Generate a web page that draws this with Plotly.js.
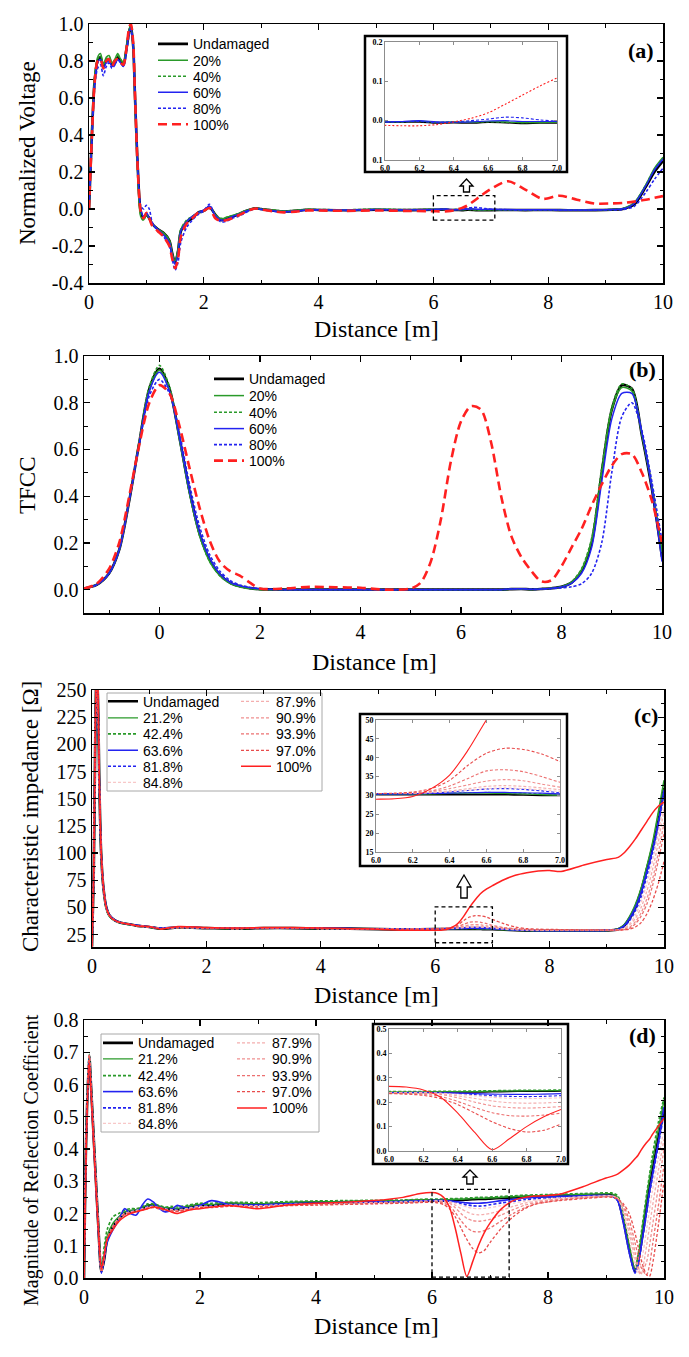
<!DOCTYPE html>
<html><head><meta charset="utf-8">
<script src="https://cdn.plot.ly/plotly-3.0.1.min.js"></script>
<style>html,body{margin:0;padding:0;background:#fff;}#chart{width:689px;height:1357px;}</style>
</head><body><div id="chart"></div>
<script>
// ================= DATA =================
// Panel (a) normalized voltage
const aDist = [0,0.05,0.1,0.15,0.2, 0.25,0.3,0.35,0.4,0.45, 0.5,0.55,0.6,0.65,0.7, 0.73,0.77,0.8,0.85,0.9,
 0.95,1.0,1.05,1.1,1.2, 1.3,1.4,1.45,1.5,1.55, 1.6,1.7,1.8,1.9,2.0, 2.1,2.2,2.3,2.4,2.5,
 2.6,2.7,2.8,2.9,3.0, 3.2,3.4,3.6,3.8,4.0, 4.5,5.0,5.5,6.0,6.1, 6.2,6.3,6.4,6.5,6.6,
 6.7,6.8,6.9,7.0,7.3, 7.6,7.9,8.2,8.5,8.8, 9.1,9.3,9.5,9.7,9.85, 10.0];
const aUndamaged = [0.00,0.40,0.70,0.80,0.82, 0.77,0.80,0.81,0.78,0.79, 0.82,0.80,0.78,0.86,0.96, 0.99,0.88,0.62,0.22,-0.01,
 -0.05,-0.03,-0.05,-0.08,-0.11, -0.13,-0.17,-0.24,-0.29,-0.23, -0.12,-0.07,-0.05,-0.02,-0.01, 0.01,-0.03,-0.06,-0.05,-0.04,
 -0.03,-0.015,-0.004,0.004,0.000, -0.008,-0.013,-0.010,-0.004,-0.005, -0.007,-0.004,-0.006,-0.004,-0.004, -0.003,-0.006,-0.005,-0.006,-0.004,
 -0.005,-0.007,-0.006,-0.006,-0.005, -0.006,-0.005,-0.006,-0.007,-0.006, -0.004,0.000,0.025,0.12,0.20, 0.26];
const a20 = [0.00,0.41,0.72,0.82,0.84, 0.78,0.82,0.83,0.79,0.81, 0.84,0.81,0.79,0.87,0.97, 0.99,0.87,0.60,0.19,-0.04,
 -0.06,-0.03,-0.05,-0.08,-0.11, -0.13,-0.17,-0.24,-0.28,-0.22, -0.11,-0.07,-0.04,-0.02,-0.01, 0.012,-0.03,-0.055,-0.045,-0.035,
 -0.025,-0.012,-0.002,0.004,0.000, -0.006,-0.011,-0.008,-0.003,-0.004, -0.005,-0.002,-0.004,-0.003,-0.003, -0.001,-0.004,-0.003,-0.004,-0.002,
 -0.003,-0.005,-0.005,-0.004,-0.004, -0.005,-0.004,-0.005,-0.006,-0.005, -0.003,0.002,0.035,0.13,0.22, 0.28];
const a40 = [0.00,0.40,0.71,0.81,0.83, 0.78,0.81,0.82,0.79,0.80, 0.83,0.81,0.79,0.86,0.97, 0.99,0.87,0.61,0.20,-0.03,
 -0.06,-0.03,-0.05,-0.08,-0.11, -0.13,-0.17,-0.25,-0.29,-0.23, -0.11,-0.06,-0.04,-0.02,-0.01, 0.012,-0.03,-0.05,-0.045,-0.035,
 -0.025,-0.012,-0.003,0.004,0.001, -0.005,-0.010,-0.007,-0.002,-0.003, -0.004,-0.001,-0.003,-0.002,-0.003, -0.002,-0.004,-0.003,-0.003,-0.003,
 -0.004,-0.005,-0.004,-0.004,-0.004, -0.005,-0.004,-0.005,-0.005,-0.004, -0.003,0.002,0.033,0.13,0.215, 0.275];
const a60 = [0.00,0.39,0.69,0.79,0.81, 0.76,0.79,0.80,0.77,0.78, 0.81,0.79,0.77,0.85,0.96, 0.98,0.88,0.63,0.22,0.00,
 -0.04,-0.02,-0.05,-0.08,-0.11, -0.14,-0.18,-0.25,-0.30,-0.24, -0.12,-0.07,-0.04,-0.02,-0.005, 0.015,-0.035,-0.06,-0.055,-0.04,
 -0.03,-0.016,-0.005,0.003,-0.001, -0.009,-0.014,-0.011,-0.005,-0.004, -0.006,-0.003,-0.005,-0.003,-0.002, 0.000,-0.003,-0.004,-0.003,-0.001,
 0.000,-0.002,-0.002,-0.002,-0.003, -0.004,-0.004,-0.005,-0.006,-0.005, -0.003,0.001,0.030,0.125,0.21, 0.27];
const a80 = [0.00,0.36,0.66,0.76,0.78, 0.72,0.77,0.79,0.76,0.78, 0.81,0.79,0.77,0.84,0.94, 0.97,0.88,0.64,0.25,0.02,
 0.00,0.02,0.00,-0.07,-0.12, -0.15,-0.20,-0.27,-0.33,-0.29, -0.18,-0.10,-0.06,-0.03,-0.01, 0.025,-0.04,-0.07,-0.065,-0.05,
 -0.04,-0.025,-0.008,0.002,-0.003, -0.012,-0.017,-0.013,-0.006,-0.006, -0.008,-0.004,-0.006,-0.004,-0.003, -0.002,-0.005,-0.003,0.000,0.004,
 0.009,0.007,0.002,-0.001,-0.004, -0.005,-0.005,-0.006,-0.007,-0.006, -0.005,-0.003,0.015,0.09,0.16, 0.22];
const a100 = [0.00,0.39,0.69,0.80,0.81, 0.76,0.80,0.81,0.77,0.80, 0.81,0.79,0.78,0.86,0.98, 1.00,0.90,0.63,0.21,-0.01,
 -0.05,-0.02,-0.05,-0.09,-0.12, -0.15,-0.20,-0.27,-0.32,-0.27, -0.15,-0.08,-0.05,-0.02,-0.01, 0.005,-0.05,-0.065,-0.06,-0.05,
 -0.035,-0.02,-0.005,0.003,-0.003, -0.012,-0.018,-0.014,-0.008,-0.008, -0.010,-0.008,-0.010,-0.012,-0.013, -0.013,-0.010,-0.003,0.006,0.020,
 0.042,0.065,0.088,0.108,0.150, 0.105,0.055,0.072,0.050,0.030, 0.030,0.033,0.040,0.050,0.060, 0.070];

// Panel (b) TFCC
const bDist = [-1.5,-1.25,-1.0,-0.8,-0.6,-0.4,-0.2,0,0.2,0.4, 0.6,0.8,1.0,1.2,1.4,1.6,1.8,2.0,2.5,3.0,
 3.5,4.0,4.5,5.0,5.2,5.4,5.6,5.8,6.0,6.2, 6.4,6.6,6.8,7.0,7.2,7.4,7.6,7.8,8.0,8.2, 8.4,8.6,8.8,9.0,9.2,9.4,9.6,9.8,10.0];
const bUndamaged = [0.005,0.02,0.07,0.17,0.38,0.63,0.86,0.945,0.86,0.65, 0.42,0.24,0.13,0.065,0.03,0.014,0.006,0.002,0.0,0.0,
 0.0,0.0,0.0,0.0,0.0,0.0,0.0,0.0,0.0,0.0, 0.0,0.0,0.0,0.002,0.003,0.001,0.003,0.006,0.012,0.03, 0.08,0.2,0.5,0.77,0.875,0.86,0.66,0.43,0.14];
const b20 = [0.005,0.02,0.07,0.17,0.38,0.63,0.855,0.94,0.855,0.64, 0.41,0.23,0.12,0.06,0.028,0.012,0.005,0.001,0.0,0.0,
 0.0,0.0,0.0,0.0,0.0,0.0,0.0,0.0,0.0,0.0, 0.0,0.0,0.0,0.002,0.003,0.001,0.003,0.006,0.012,0.032, 0.085,0.21,0.5,0.77,0.865,0.85,0.66,0.44,0.16];
const b40 = [0.005,0.02,0.07,0.17,0.38,0.64,0.87,0.96,0.87,0.65, 0.41,0.23,0.12,0.06,0.027,0.011,0.004,0.0,0.0,0.0,
 0.0,0.0,0.0,0.0,0.0,0.0,0.0,0.0,0.0,0.0, 0.0,0.0,0.0,0.002,0.003,0.001,0.003,0.006,0.012,0.033, 0.09,0.22,0.52,0.78,0.88,0.86,0.67,0.44,0.15];
const b60 = [0.005,0.02,0.07,0.17,0.38,0.63,0.85,0.93,0.85,0.65, 0.42,0.245,0.135,0.068,0.032,0.016,0.008,0.003,0.0,0.0,
 0.0,0.0,0.0,0.0,0.0,0.0,0.0,0.0,0.0,0.0, 0.0,0.0,0.0,0.003,0.004,0.002,0.003,0.006,0.011,0.027, 0.07,0.18,0.46,0.73,0.84,0.84,0.67,0.43,0.12];
const b80 = [0.005,0.02,0.07,0.17,0.38,0.62,0.83,0.90,0.84,0.67, 0.45,0.27,0.15,0.08,0.04,0.02,0.01,0.004,0.0,0.0,
 0.0,0.0,0.0,0.0,0.0,0.0,0.0,0.0,0.0,0.0, 0.0,0.0,0.0,0.002,0.003,0.001,0.002,0.004,0.007,0.012, 0.025,0.07,0.2,0.5,0.74,0.8,0.68,0.46,0.21];
const b100 = [0.005,0.025,0.09,0.2,0.4,0.62,0.8,0.875,0.84,0.7, 0.52,0.35,0.21,0.12,0.08,0.06,0.03,0.005,0.005,0.012,
 0.01,0.008,0.0,0.005,0.03,0.12,0.3,0.55,0.72,0.785, 0.77,0.63,0.4,0.23,0.14,0.08,0.035,0.04,0.1,0.18, 0.26,0.36,0.45,0.53,0.58,0.58,0.5,0.38,0.2];

// Panel (c) characteristic impedance
const cDist = [0,0.03,0.06,0.08,0.1,0.13,0.16,0.2,0.25,0.3, 0.4,0.5,0.6,0.8,1.0,1.2,1.5,2.0,2.5,3.0,
 3.5,4.0,4.5,5.0,5.5,6.0,6.1,6.2,6.3,6.4, 6.5,6.6,6.7,6.8,6.9,7.0,7.2,7.4,7.6,7.8,
 8.0,8.2,8.6,9.0,9.2,9.3,9.4,9.5,9.6,9.7,9.8,9.9,10.0];
const cUndamaged = [14,80,220,265,250,160,100,68,50,43, 38,36,35,33,32,30.5,31.5,31,30.5,31,
 31,30.5,30.5,30,29.8,30.2,30.2,30.2,30.2,30.2, 30.2,30.2,30.2,30.1,30.0,30.0,29.5,29,28.7,28.5,
 28.5,28.5,28.5,28.8,30,33,40,50,65,85,105,130,160];
const c212 = [14,82,222,266,250,158,98,67,49,42, 37.5,35.5,34.5,33,31.8,30.5,31.5,31,30.5,31,
 31,30.5,30.3,30,29.8,30.3,30.3,30.3,30.4,30.5, 30.6,30.6,30.5,30.4,30.2,30.0,29.5,29,28.7,28.5,
 28.5,28.5,28.5,28.8,30.5,34,42,53,68,88,110,138,167];
const c424 = [14,81,221,265,249,159,99,68,50,42.5, 38,36,35,33.2,32,30.8,31.6,31.1,30.6,31,
 31,30.6,30.4,30.1,29.9,30.4,30.4,30.4,30.5,30.6, 30.7,30.8,30.7,30.6,30.4,30.3,29.8,29.2,28.8,28.6,
 28.6,28.6,28.6,28.9,30.3,33.5,41,52,67,87,108,135,165];
const c636 = [14,79,218,264,250,161,101,69,51,43.5, 38.5,36.2,35,33.5,32.2,31,31.8,31.3,30.8,31.2,
 31.2,30.8,30.6,30.2,30,30.4,30.4,30.4,30.5,30.6, 30.7,30.8,30.8,30.7,30.6,30.4,29.9,29.3,28.9,28.7,
 28.6,28.6,28.6,28.9,30,33,40,50,64,83,103,128,158];
const c818 = [14,80,219,264,249,160,100,68,50,43, 38,36,35,33.2,32,30.8,31.6,31.2,30.7,31.1,
 31.1,30.7,30.5,30.1,29.9,30.4,30.4,30.5,30.6,30.9, 31.3,31.7,31.8,31.6,31.2,30.7,30,29.4,29,28.9,
 28.8,28.8,28.8,29,30,32.5,38,47,60,79,100,125,155];
const c848 = [14,80,220,265,250,160,100,68,50,43, 38,36,35,33,32,30.6,31.6,31.1,30.6,31,
 31,30.6,30.4,30.1,29.9,30.5,30.5,30.6,30.7,31, 31.4,31.8,32,31.8,31.5,31,30.2,29.6,29.2,29,
 29,29,29,29,29.5,31,35,43,55,72,93,118,148];
const c879 = [14,80,220,265,250,160,100,68,50,43, 38,36,35,33,32,30.6,31.5,31.1,30.6,31,
 31,30.6,30.4,30.1,29.9,30.5,30.5,30.6,30.8,31.2, 31.8,32.4,32.6,32.4,32,31.5,30.5,29.8,29.4,29.2,
 29,29,29,29,29.5,30.5,34,40,50,65,85,110,140];
const c909 = [14,80,220,265,250,160,100,68,50,43, 38,36,35,33,32,30.6,31.5,31.1,30.6,31,
 31,30.6,30.4,30.1,29.9,30.5,30.5,30.6,31,31.8, 32.8,33.8,34.2,33.9,33,32.2,31,30.2,29.6,29.3,
 29,29,29,29,29.2,30,32,37,45,58,76,100,128];
const c939 = [14,80,220,265,250,160,100,68,50,43, 38,36,35,33,32,30.6,31.5,31.1,30.6,31,
 31,30.6,30.4,30.1,29.9,30.5,30.5,30.7,31.2,32.5, 34.5,36.5,36.8,36.3,35,33.5,31.5,30.5,29.8,29.5,
 29.5,29.5,29.3,29.2,29.2,29.5,31,35,42,53,70,93,118];
const c970 = [14,80,220,265,250,160,100,68,50,43, 38,36,35,33,32,30.6,31.5,31.1,30.6,31,
 31,30.6,30.4,30.1,29.9,30.5,30.6,30.9,31.8,34, 38,41.2,42.5,42.2,41,39,35,32,30.5,30,
 29.8,29.6,29.4,29.3,29.2,29.4,30,32,36,44,56,72,92];
const c100 = [14,82,225,270,255,165,102,69,50,43, 38,36,35,33,32.5,30,32.5,31.5,31,31.5,
 31.5,31,30.5,30,29,29,29.1,29.7,31.8,35.4, 42,50,57,63,67,70,75.5,79.6,82,83.6,
 84,83,89,94,96,100,106,113,121,129,137,143,147];

// Panel (d) magnitude of reflection coefficient
const dDist = [0,0.04,0.09,0.12,0.16,0.2,0.25,0.3,0.35,0.4, 0.5,0.6,0.7,0.8,0.9,1.0,1.1,1.2,1.3,1.4,
 1.5,1.6,1.8,2.0,2.2,2.5,3.0,3.5,4.0,4.5, 5.0,5.5,5.8,6.0,6.1,6.2,6.3,6.4,6.5,6.6,
 6.7,6.8,6.9,7.0,7.2,7.4,7.6,7.8,8.0,8.2, 8.6,9.0,9.1,9.2,9.3,9.4,9.5,9.55,9.6,9.7,9.75,9.8,9.9,10.0];
const dUndamaged = [0.0,0.45,0.69,0.6,0.46,0.32,0.15,0.02,0.06,0.12, 0.16,0.185,0.2,0.205,0.21,0.215,0.225,0.225,0.22,0.215,
 0.215,0.212,0.22,0.226,0.225,0.23,0.228,0.232,0.234,0.235, 0.237,0.238,0.24,0.24,0.24,0.24,0.241,0.242,0.242,0.243,
 0.244,0.245,0.245,0.246,0.248,0.25,0.252,0.253,0.254,0.255, 0.257,0.258,0.258,0.245,0.18,0.09,0.02,0.05,0.1,0.22,0.28,0.33,0.43,0.52];
const d212 = [0.0,0.46,0.695,0.6,0.46,0.32,0.15,0.025,0.08,0.13, 0.17,0.19,0.205,0.21,0.212,0.218,0.226,0.226,0.222,0.218,
 0.218,0.215,0.222,0.228,0.228,0.232,0.23,0.234,0.236,0.237, 0.239,0.24,0.242,0.242,0.242,0.242,0.243,0.244,0.244,0.245,
 0.246,0.247,0.247,0.248,0.25,0.252,0.254,0.255,0.256,0.257, 0.259,0.261,0.261,0.25,0.19,0.1,0.025,0.06,0.12,0.25,0.31,0.36,0.46,0.55];
const d424 = [0.0,0.46,0.69,0.6,0.46,0.32,0.16,0.03,0.1,0.15, 0.19,0.2,0.21,0.215,0.215,0.22,0.23,0.23,0.225,0.22,
 0.222,0.22,0.226,0.232,0.232,0.235,0.234,0.237,0.239,0.24, 0.241,0.242,0.244,0.245,0.245,0.245,0.246,0.246,0.247,0.248,
 0.249,0.25,0.25,0.251,0.253,0.255,0.257,0.258,0.259,0.26, 0.262,0.264,0.264,0.255,0.2,0.11,0.03,0.07,0.13,0.26,0.32,0.38,0.48,0.56];
const d636 = [0.0,0.44,0.68,0.59,0.45,0.31,0.14,0.015,0.06,0.11, 0.15,0.18,0.215,0.2,0.195,0.225,0.245,0.235,0.215,0.205,
 0.21,0.225,0.215,0.225,0.24,0.228,0.226,0.23,0.232,0.234, 0.236,0.237,0.239,0.24,0.24,0.24,0.239,0.237,0.235,0.233,
 0.232,0.232,0.233,0.235,0.24,0.244,0.248,0.25,0.252,0.253, 0.255,0.256,0.255,0.24,0.17,0.08,0.015,0.04,0.09,0.21,0.27,0.32,0.42,0.53];
const d818 = [0.0,0.45,0.69,0.6,0.46,0.32,0.15,0.02,0.07,0.12, 0.16,0.185,0.2,0.205,0.21,0.215,0.222,0.224,0.22,0.215,
 0.214,0.212,0.218,0.224,0.224,0.228,0.226,0.23,0.232,0.234, 0.236,0.237,0.239,0.24,0.24,0.24,0.238,0.235,0.231,0.227,
 0.224,0.223,0.224,0.227,0.233,0.238,0.243,0.246,0.248,0.25, 0.253,0.255,0.254,0.24,0.17,0.08,0.02,0.04,0.09,0.2,0.26,0.31,0.41,0.51];
const d848 = [0.0,0.45,0.69,0.6,0.46,0.32,0.15,0.02,0.07,0.12, 0.16,0.185,0.2,0.205,0.21,0.214,0.22,0.222,0.218,0.214,
 0.212,0.21,0.216,0.222,0.222,0.226,0.224,0.228,0.23,0.232, 0.234,0.236,0.238,0.239,0.239,0.239,0.237,0.232,0.226,0.22,
 0.216,0.215,0.216,0.218,0.225,0.232,0.238,0.242,0.245,0.248, 0.252,0.255,0.255,0.248,0.2,0.12,0.04,0.015,0.04,0.15,0.21,0.27,0.37,0.46];
const d879 = [0.0,0.45,0.69,0.6,0.46,0.32,0.15,0.02,0.07,0.12, 0.16,0.184,0.2,0.204,0.208,0.213,0.219,0.221,0.217,0.213,
 0.211,0.209,0.215,0.221,0.221,0.225,0.223,0.227,0.229,0.231, 0.233,0.235,0.237,0.238,0.238,0.238,0.235,0.226,0.215,0.205,
 0.198,0.196,0.197,0.2,0.21,0.222,0.232,0.238,0.242,0.246, 0.251,0.254,0.254,0.247,0.21,0.14,0.06,0.025,0.01,0.1,0.16,0.22,0.33,0.43];
const d909 = [0.0,0.45,0.69,0.6,0.46,0.32,0.15,0.02,0.07,0.12, 0.16,0.183,0.199,0.203,0.207,0.212,0.218,0.22,0.216,0.212,
 0.21,0.208,0.214,0.22,0.22,0.224,0.222,0.226,0.228,0.23, 0.232,0.234,0.236,0.237,0.237,0.236,0.232,0.218,0.2,0.185,
 0.178,0.176,0.178,0.182,0.196,0.212,0.226,0.234,0.24,0.244, 0.25,0.253,0.253,0.246,0.22,0.16,0.08,0.04,0.015,0.05,0.1,0.16,0.28,0.4];
const d939 = [0.0,0.45,0.69,0.6,0.46,0.32,0.15,0.02,0.07,0.12, 0.158,0.182,0.198,0.202,0.206,0.211,0.217,0.219,0.215,0.211,
 0.209,0.207,0.213,0.219,0.219,0.223,0.221,0.225,0.227,0.229, 0.231,0.233,0.235,0.236,0.235,0.232,0.224,0.203,0.178,0.157,
 0.145,0.143,0.147,0.155,0.178,0.2,0.218,0.23,0.236,0.242, 0.248,0.252,0.252,0.245,0.225,0.18,0.11,0.07,0.035,0.01,0.04,0.1,0.22,0.35];
const d970 = [0.0,0.45,0.69,0.6,0.46,0.32,0.15,0.02,0.07,0.12, 0.157,0.181,0.197,0.201,0.205,0.21,0.216,0.218,0.214,0.21,
 0.208,0.206,0.212,0.218,0.218,0.222,0.22,0.224,0.226,0.228, 0.23,0.232,0.234,0.235,0.233,0.228,0.215,0.19,0.155,0.12,
 0.092,0.078,0.085,0.11,0.155,0.19,0.215,0.23,0.236,0.24, 0.246,0.251,0.25,0.245,0.23,0.2,0.14,0.1,0.06,0.01,0.005,0.04,0.16,0.3];
const d100 = [0.0,0.42,0.67,0.58,0.44,0.3,0.14,0.03,0.07,0.12, 0.15,0.175,0.19,0.2,0.205,0.21,0.215,0.22,0.218,0.212,
 0.205,0.2,0.21,0.215,0.22,0.225,0.215,0.226,0.232,0.235, 0.24,0.25,0.262,0.265,0.262,0.25,0.22,0.155,0.075,0.005,
 0.05,0.1,0.14,0.17,0.215,0.24,0.25,0.254,0.256,0.26, 0.283,0.31,0.315,0.322,0.335,0.35,0.37,0.38,0.395,0.42,0.43,0.445,0.47,0.495];

// Labels and ticks
const labelsAB = ['Undamaged','20%','40%','60%','80%','100%'];
const labelsCD = ['Undamaged','21.2%','42.4%','63.6%','81.8%','84.8%','87.9%','90.9%','93.9%','97.0%','100%'];
const distTicks = [0,2,4,6,8,10];
const distTickText = ['0','2','4','6','8','10'];
const aYTicks = [-0.4,-0.2,0,0.2,0.4,0.6,0.8,1.0];
const aYTickText = ['-0.4','-0.2','0.0','0.2','0.4','0.6','0.8','1.0'];
const bYTicks = [0,0.2,0.4,0.6,0.8,1.0];
const bYTickText = ['0.0','0.2','0.4','0.6','0.8','1.0'];
const cYTicks = [25,50,75,100,125,150,175,200,225,250];
const cYTickText = ['25','50','75','100','125','150','175','200','225','250'];
const dYTicks = [0,0.1,0.2,0.3,0.4,0.5,0.6,0.7,0.8];
const dYTickText = ['0.0','0.1','0.2','0.3','0.4','0.5','0.6','0.7','0.8'];
const insetXTicks = [6.0,6.2,6.4,6.6,6.8,7.0];
const insetXTickText = ['6.0','6.2','6.4','6.6','6.8','7.0'];
const insetAYTicks = [-0.1,0,0.1,0.2];
const insetAYTickText = ['0.1','0.0','0.1','0.2'];
const insetCYTicks = [15,20,25,30,35,40,45,50];
const insetCYTickText = ['15','20','25','30','35','40','45','50'];
const insetDYTicks = [0,0.1,0.2,0.3,0.4,0.5];
const insetDYTickText = ['0.0','0.1','0.2','0.3','0.4','0.5'];

// ================= STYLE / LAYOUT =================
const W = 689, H = 1357;
const px = v => v / W;
const py = v => 1 - v / H;
const SERIF = 'Liberation Serif, Times New Roman, serif';
const SANS = 'Liberation Sans, Arial, sans-serif';
const BLACK = '#000000', GREEN = '#2a9a2a', BLUE = '#2323f0', RED = '#ff2020';
const PINKS = ['#f8c8c8','#f4aeae','#f09090','#ec7070','#e84c4c'];
const DOT = '3px,2px', DASH = '9px,5px';

function check(name, x, y) { if (x.length !== y.length) throw new Error(name + ': ' + y.length + ' vs ' + x.length); }

const styleAB = [
  {color: BLACK, width: 2.6, dash: 'solid'},
  {color: GREEN, width: 1.5, dash: 'solid'},
  {color: GREEN, width: 1.6, dash: DOT},
  {color: BLUE, width: 1.5, dash: 'solid'},
  {color: BLUE, width: 1.6, dash: DOT},
  {color: RED, width: 2.6, dash: DASH}
];
const styleCD = [
  {color: BLACK, width: 2.6, dash: 'solid'},
  {color: GREEN, width: 1.4, dash: 'solid'},
  {color: GREEN, width: 1.6, dash: DOT},
  {color: BLUE, width: 1.6, dash: 'solid'},
  {color: BLUE, width: 1.6, dash: DOT},
  {color: PINKS[0], width: 1.3, dash: DOT},
  {color: PINKS[1], width: 1.3, dash: DOT},
  {color: PINKS[2], width: 1.3, dash: DOT},
  {color: PINKS[3], width: 1.3, dash: DOT},
  {color: PINKS[4], width: 1.3, dash: DOT},
  {color: RED, width: 1.5, dash: 'solid'}
];

const panels = [
  {x: aDist, ys: [aUndamaged,a20,a40,a60,a80,a100], labels: labelsAB, styles: styleAB, ax: '', inset: '5',
   legendRows: [[153,44.3],[153,60.7],[153,76.7],[153,92.7],[153,108.7],[153,124.7]], insetDash: {5: '2px,2px'}},
  {x: bDist, ys: [bUndamaged,b20,b40,b60,b80,b100], labels: labelsAB, styles: styleAB, ax: '2', inset: null,
   legendRows: [[209,379.3],[209,396],[209,412.7],[209,429],[209,445],[209,461]]},
  {x: cDist, ys: [cUndamaged,c212,c424,c636,c818,c848,c879,c909,c939,c970,c100], labels: labelsCD, styles: styleCD, ax: '3', inset: '6',
   legendRows: [[103,701.7],[103,718.3],[103,734.3],[103,750.7],[103,766.7],[103,782.7],[236,701.7],[236,718.3],[236,734.3],[236,750.7],[236,766.7]]},
  {x: dDist, ys: [dUndamaged,d212,d424,d636,d818,d848,d879,d909,d939,d970,d100], labels: labelsCD, styles: styleCD, ax: '4', inset: '7',
   legendRows: [[98,1043.3],[98,1059.3],[98,1076],[98,1092],[98,1108.3],[98,1123.7],[232,1043.3],[232,1059.3],[232,1076],[232,1092],[232,1108.3]]}
];

const layout = {
  width: W, height: H, margin: {l: 0, r: 0, t: 0, b: 0},
  paper_bgcolor: '#ffffff', plot_bgcolor: '#ffffff', showlegend: true,
  shapes: [], annotations: []
};
const traces = [];
let legendCount = 0;
function newLegend(xPx, yPx) {
  legendCount++;
  const key = legendCount === 1 ? 'legend' : 'legend' + legendCount;
  layout[key] = {x: px(xPx), y: py(yPx), xanchor: 'left', yanchor: 'middle', bgcolor: 'rgba(0,0,0,0)',
    borderwidth: 0, itemwidth: 30, font: {family: SANS, size: 14, color: '#000'}, itemclick: false, itemdoubleclick: false};
  return key;
}

panels.forEach((p, pi) => {
  p.ys.forEach((y, i) => {
    check('panel' + pi + ' ' + p.labels[i], p.x, y);
    const st = p.styles[i];
    const lg = newLegend(p.legendRows[i][0], p.legendRows[i][1]);
    traces.push({type: 'scatter', mode: 'lines', x: p.x, y: y, name: p.labels[i], legend: lg,
      xaxis: 'x' + p.ax, yaxis: 'y' + p.ax, hoverinfo: 'skip',
      line: {color: st.color, width: st.width, dash: st.dash, shape: 'spline', smoothing: 0.8}});
  });
  if (p.inset) {
    p.ys.forEach((y, i) => {
      const st = p.styles[i];
      let dash = st.dash;
      if (i === p.ys.length - 1 && p.insetDash) dash = p.insetDash[5];
      traces.push({type: 'scatter', mode: 'lines', x: p.x, y: y, name: p.labels[i], showlegend: false,
        xaxis: 'x' + p.inset, yaxis: 'y' + p.inset, hoverinfo: 'skip',
        line: {color: st.color, width: i === 0 ? 1.6 : 1.1, dash: dash, shape: 'spline', smoothing: 0.8}});
    });
  }
});

function mainAxis(domPx, isY, range, vals, text, minorD, minor0) {
  const dom = isY ? [py(domPx[1]), py(domPx[0])] : [px(domPx[0]), px(domPx[1])];
  return {domain: dom, range: range, showgrid: false, zeroline: false, showline: true, linecolor: '#000', linewidth: 1.5,
    mirror: 'allticks', ticks: 'inside', ticklen: 6, tickwidth: 1.2, tickcolor: '#000',
    tickmode: 'array', tickvals: vals, ticktext: text,
    tickfont: {family: SERIF, size: 20, color: '#000'}, fixedrange: true,
    minor: {tickmode: 'linear', tick0: minor0, dtick: minorD, ticks: 'inside', ticklen: 3.5, tickwidth: 1, tickcolor: '#000', showgrid: false}};
}
function insetAxis(domPx, isY, range, vals, text) {
  const dom = isY ? [py(domPx[1]), py(domPx[0])] : [px(domPx[0]), px(domPx[1])];
  return {domain: dom, range: range, showgrid: false, zeroline: false, showline: true, linecolor: '#8c8c8c', linewidth: 1,
    mirror: 'allticks', ticks: 'inside', ticklen: 3, tickwidth: 1, tickcolor: '#8c8c8c',
    tickmode: 'array', tickvals: vals, ticktext: text,
    tickfont: {family: SERIF, size: 8, color: '#000', weight: 'bold'}, fixedrange: true};
}

// main axes
layout.xaxis = Object.assign(mainAxis([89, 663], false, [0, 10], distTicks, distTickText, 1, 0), {anchor: 'y'});
layout.yaxis = Object.assign(mainAxis([24, 283], true, [-0.4, 1.0], aYTicks, aYTickText, 0.1, -0.4), {anchor: 'x'});
layout.xaxis2 = Object.assign(mainAxis([84, 662], false, [-1.5, 10], distTicks, distTickText, 1, -1), {anchor: 'y2'});
layout.yaxis2 = Object.assign(mainAxis([356, 613], true, [-0.1, 1.0], bYTicks, bYTickText, 0.1, 0), {anchor: 'x2'});
layout.xaxis3 = Object.assign(mainAxis([92, 664], false, [0, 10], distTicks, distTickText, 1, 0), {anchor: 'y3'});
layout.yaxis3 = Object.assign(mainAxis([690, 947], true, [13.6, 250], cYTicks, cYTickText, 12.5, 25), {anchor: 'x3'});
layout.xaxis4 = Object.assign(mainAxis([84, 664], false, [0, 10], distTicks, distTickText, 1, 0), {anchor: 'y4'});
layout.yaxis4 = Object.assign(mainAxis([1020, 1278], true, [0, 0.8], dYTicks, dYTickText, 0.05, 0), {anchor: 'x4'});
// insets
layout.xaxis5 = Object.assign(insetAxis([385, 557], false, [6, 7], insetXTicks, insetXTickText), {anchor: 'y5'});
layout.yaxis5 = Object.assign(insetAxis([42, 160], true, [-0.1, 0.2], insetAYTicks, insetAYTickText), {anchor: 'x5'});
layout.xaxis6 = Object.assign(insetAxis([376, 560], false, [6, 7], insetXTicks, insetXTickText), {anchor: 'y6'});
layout.yaxis6 = Object.assign(insetAxis([720, 852], true, [15, 50], insetCYTicks, insetCYTickText), {anchor: 'x6'});
layout.xaxis7 = Object.assign(insetAxis([389, 561], false, [6, 7], insetXTicks, insetXTickText), {anchor: 'y7'});
layout.yaxis7 = Object.assign(insetAxis([1029, 1151], true, [0, 0.5], insetDYTicks, insetDYTickText), {anchor: 'x7'});

// decorations: inset frames, legend boxes, zoom boxes, arrows
function paperRect(x0, y0, x1, y1, lineColor, lineWidth, fill) {
  return {type: 'rect', xref: 'paper', yref: 'paper', x0: px(x0), x1: px(x1), y0: py(y1), y1: py(y0),
    line: {color: lineColor, width: lineWidth}, fillcolor: fill, layer: 'below'};
}
layout.shapes.push(paperRect(365, 36, 567, 172, '#000', 2.5, '#fff'));
layout.shapes.push(paperRect(360, 714, 567, 866, '#000', 2.5, '#fff'));
layout.shapes.push(paperRect(373, 1024, 568, 1164, '#000', 2.5, '#fff'));
layout.shapes.push(paperRect(107, 693, 322, 791, '#a8a8a8', 1, '#fff'));
layout.shapes.push(paperRect(101, 1034, 319, 1132, '#a8a8a8', 1, '#fff'));
function zoomBox(ax, x0, x1, y0, y1) {
  return {type: 'rect', xref: 'x' + ax, yref: 'y' + ax, x0: x0, x1: x1, y0: y0, y1: y1,
    line: {color: '#000', width: 1.3, dash: '4px,3px'}, fillcolor: 'rgba(0,0,0,0)', layer: 'above'};
}
layout.shapes.push(zoomBox('', 6, 7.07, -0.06, 0.072));
layout.shapes.push(zoomBox('3', 6, 7, 17.5, 50.5));
layout.shapes.push(zoomBox('4', 6, 7.33, 0.003, 0.275));
function arrow(cx, top, headBase, bottom, hw, sw) {
  const P = (x, y) => px(x).toFixed(5) + ',' + py(y).toFixed(5);
  const path = 'M' + P(cx, top) + ' L' + P(cx + hw, headBase) + ' L' + P(cx + sw, headBase) + ' L' + P(cx + sw, bottom) +
    ' L' + P(cx - sw, bottom) + ' L' + P(cx - sw, headBase) + ' L' + P(cx - hw, headBase) + ' Z';
  return {type: 'path', xref: 'paper', yref: 'paper', path: path, line: {color: '#000', width: 1.3}, fillcolor: '#fff', layer: 'above'};
}
layout.shapes.push(arrow(466.5, 179, 186, 192, 6.5, 3));
layout.shapes.push(arrow(464, 875, 887, 898, 7, 3.2));
layout.shapes.push(arrow(470, 1170, 1177, 1184, 7, 3.2));

// text annotations
function note(text, xPx, yPx, size, opts) {
  return Object.assign({text: text, xref: 'paper', yref: 'paper', x: px(xPx), y: py(yPx), xanchor: 'center', yanchor: 'middle',
    showarrow: false, font: {family: SERIF, size: size, color: '#000'}}, opts || {});
}
layout.annotations.push(note('<b>(a)</b>', 641, 50, 22));
layout.annotations.push(note('<b>(b)</b>', 642, 369, 22));
layout.annotations.push(note('<b>(c)</b>', 646, 715, 22));
layout.annotations.push(note('<b>(d)</b>', 642, 1035, 22));
layout.annotations.push(note('Distance [m]', 376, 329, 24));
layout.annotations.push(note('Distance [m]', 374, 662, 24));
layout.annotations.push(note('Distance [m]', 376, 995, 24));
layout.annotations.push(note('Distance [m]', 376, 1326, 24));
layout.annotations.push(note('Normalized Voltage', 27, 153, 23, {textangle: -90}));
layout.annotations.push(note('TFCC', 27, 485, 23, {textangle: -90}));
layout.annotations.push(note('Characteristic impedance [Ω]', 30, 817, 23, {textangle: -90}));
layout.annotations.push(note('Magnitude of Reflection Coefficient', 31, 1160, 20, {textangle: -90}));

Plotly.newPlot('chart', traces, layout, {staticPlot: true, displayModeBar: false});
</script></body></html>
